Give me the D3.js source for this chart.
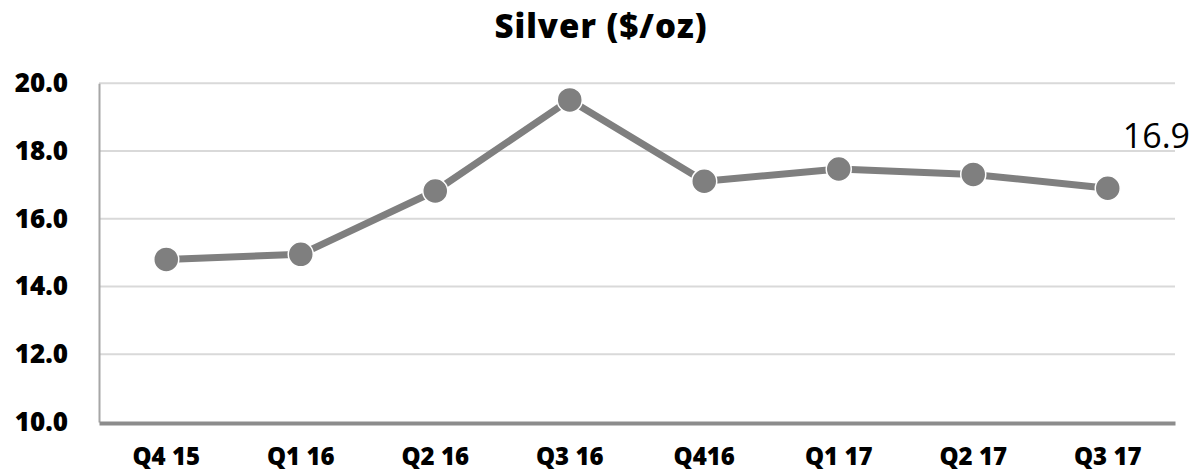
<!DOCTYPE html>
<html>
<head>
<meta charset="utf-8">
<script src="https://cdn.jsdelivr.net/npm/d3@7"></script>
<style>
  html, body { margin: 0; padding: 0; background: #ffffff; }
  svg { display: block; }
</style>
</head>
<body>
<svg id="chart" width="1197" height="476"></svg>
<script>
// Quarterly silver price, $/oz
const quarters = ["Q4 15", "Q1 16", "Q2 16", "Q3 16", "Q416", "Q1 17", "Q2 17", "Q3 17"];
const prices = [14.8, 14.95, 16.82, 19.51, 17.11, 17.47, 17.31, 16.9];
const yTicks = [10, 12, 14, 16, 18, 20];
const lastLabel = "16.9";

const W = 1197, H = 476;
const plot = { left: 99, right: 1175, top: 83.3, bottom: 422 };

const svg = d3.select("#chart");

const x = d3.scaleBand().domain(quarters).range([plot.left, plot.right]);
const y = d3.scaleLinear().domain([10, 20]).range([plot.bottom, plot.top]);
const cx = d => x(d) + x.bandwidth() / 2;

// Title
svg.append("text")
  .attr("x", 601).attr("y", 38)
  .attr("text-anchor", "middle")
  .style("font-family", "'Open Sans', sans-serif")
  .style("font-weight", "800")
  .style("font-size", "33px")
  .style("letter-spacing", "1px")
  .attr("fill", "#000")
  .text("Silver ($/oz)");

// Horizontal gridlines
svg.append("g")
  .selectAll("line")
  .data(yTicks.filter(t => t > 10))
  .join("line")
  .attr("x1", plot.left).attr("x2", plot.right)
  .attr("y1", d => y(d)).attr("y2", d => y(d))
  .attr("stroke", "#d9d9d9")
  .attr("stroke-width", 2);

// Y axis
const yAxis = svg.append("g")
  .attr("transform", `translate(${plot.left},0)`)
  .call(d3.axisLeft(y).tickValues(yTicks).tickFormat(d3.format(".1f")).tickSize(0).tickPadding(31));
yAxis.select(".domain")
  .attr("stroke", "#a6a6a6")
  .attr("stroke-width", 2);
yAxis.selectAll("text")
  .style("font-family", "'Open Sans', sans-serif")
  .style("font-weight", "800")
  .style("font-size", "26px")
  .attr("fill", "#000");

// X axis
const xAxis = svg.append("g")
  .attr("transform", `translate(0,${plot.bottom + 1})`)
  .call(d3.axisBottom(x).tickSize(0).tickPadding(25));
xAxis.select(".domain")
  .attr("stroke", "#8c8c8c")
  .attr("stroke-width", 4);
xAxis.selectAll("text")
  .style("font-family", "'Open Sans', sans-serif")
  .style("font-weight", "800")
  .style("font-size", "24px")
  .attr("fill", "#000");

// Price line
const line = d3.line()
  .x((d, i) => cx(quarters[i]))
  .y(d => y(d));

svg.append("path")
  .datum(prices)
  .attr("d", line)
  .attr("fill", "none")
  .attr("stroke", "#7f7f7f")
  .attr("stroke-width", 7)
  .attr("stroke-linejoin", "round");

// Markers
svg.append("g")
  .selectAll("circle")
  .data(prices)
  .join("circle")
  .attr("cx", (d, i) => cx(quarters[i]))
  .attr("cy", d => y(d))
  .attr("r", 12.5)
  .attr("fill", "#7f7f7f")
  .attr("stroke", "#ffffff")
  .attr("stroke-width", 1.5);

// Label on the latest value
const lastIdx = prices.length - 1;
svg.append("text")
  .attr("x", cx(quarters[lastIdx]) + 15)
  .attr("y", y(prices[lastIdx]) - 40)
  .style("font-family", "'Open Sans', sans-serif")
  .style("font-size", "34px")
  .attr("fill", "#000")
  .text(lastLabel);
</script>
</body>
</html>
